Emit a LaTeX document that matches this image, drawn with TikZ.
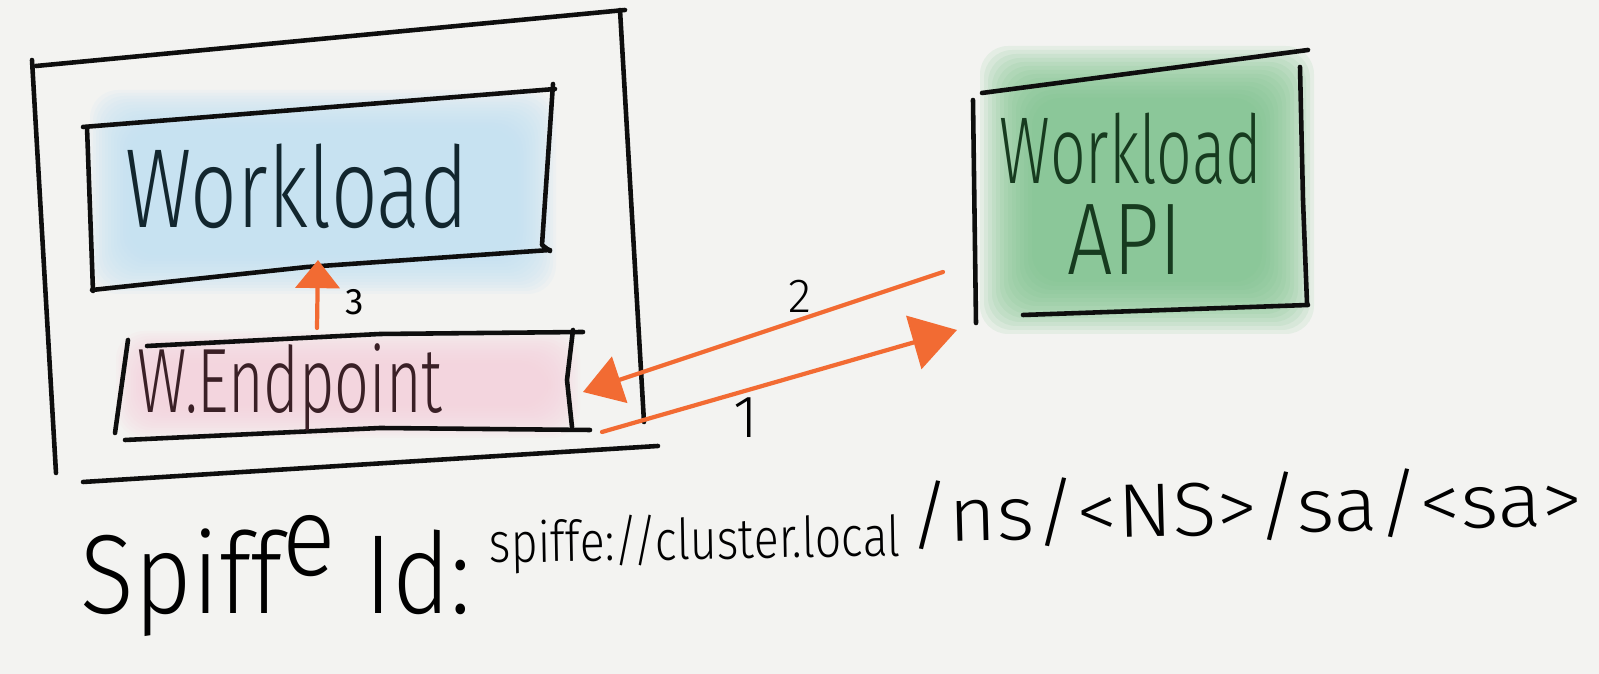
\documentclass[tikz,border=0pt]{standalone}
\usepackage{graphicx}
\usepackage{fontspec}
\IfFontExistsTF{Fira Sans Light}{\newfontfamily\hand{Fira Sans Light}}{\newfontfamily\hand{Fira Sans}}
\newfontfamily\handreg{Fira Sans}
\usetikzlibrary{arrows.meta}
\definecolor{paper}{HTML}{F3F3F1}
\definecolor{ink}{HTML}{0E0E0E}
\definecolor{orng}{HTML}{F26B33}
\definecolor{bluef}{HTML}{C2E2F1}
\definecolor{pinkf}{HTML}{F7D3DE}
\definecolor{greenf}{HTML}{7CC28C}
\definecolor{bluetxt}{HTML}{12262E}
\definecolor{pinktxt}{HTML}{3A2026}
\definecolor{greentxt}{HTML}{173B1F}
\newcommand\softfill[6]{% colour, x1, y1, x2, y2, step
  \foreach \k in {0,...,13}{%
    \fill[#1,fill opacity=0.12,rounded corners=8pt] ({#2+#6*\k},{#3+#6*\k}) rectangle ({#4-#6*\k},{#5-#6*\k});}}
\newcommand\fitw[2]{\resizebox{#1}{\height}{#2}}
\begin{document}
\begin{tikzpicture}[x=0.01cm,y=-0.01cm,
  pen/.style={draw=ink,line width=1.3pt,line cap=round,line join=round},
  flow/.style={draw=orng,line width=1.2pt,line cap=round},
  txt/.style={inner sep=0pt,anchor=base,font=\hand},
]
\fill[paper] (0,0) rectangle (1599,674);
\useasboundingbox (0,0) rectangle (1599,674);

% soft colour fills
\softfill{bluef}{90}{90}{556}{294}{3}
\softfill{pinkf}{116}{331}{580}{438}{2.5}
\softfill{greenf}{980}{46}{1314}{334}{4}

% outer box
\draw[pen] (36,66) -- (625,10);
\draw[pen] (620,10) -- (644,422);
\draw[pen] (32,60) -- (56,473);
\draw[pen] (83,482) -- (658,446);

% workload box
\draw[pen] (83,127) -- (555,89);
\draw[pen] (553,84) -- (542,245) -- (550,251);
\draw[pen] (87,127) -- (93,291);
\draw[pen] (92,290) -- (307,267) -- (550,250);
\node[txt,text=bluetxt] (wl) at (297,228) {\fontsize{32pt}{32pt}\selectfont\fitw{3.43cm}{Workload}};

% endpoint box
\draw[pen] (147,346) -- (380,334) -- (583,332);
\draw[pen] (128,340) -- (115,433);
\draw[pen] (573,330) -- (567,380) -- (572,427);
\draw[pen] (125,440) -- (380,428) -- (590,430);
\node[txt,text=pinktxt] (ep) at (290,413) {\fontsize{26pt}{26pt}\selectfont\fitw{3.05cm}{W.Endpoint}};

% workload API box
\draw[pen] (973,100) -- (976,323);
\draw[pen] (982,93) -- (1308,50);
\draw[pen] (1300,67) -- (1303,200) -- (1307,303);
\draw[pen] (1023,315) -- (1308,305);
\node[txt,text=greentxt,text depth=0pt] (apiw) at (1131,184) {\fontsize{27pt}{27pt}\selectfont\fitw{2.62cm}{Workload}};
\node[txt,text=greentxt] (api) at (1125,275) {\fontsize{29pt}{29pt}\selectfont\fitw{1.14cm}{API}};

% connector end points
\coordinate (ep3) at (317,328);
\coordinate (wl3) at (318,260);
\coordinate (ep1) at (602,432);
\coordinate (api1) at (957,330);
\coordinate (api2) at (943,272);
\coordinate (ep2) at (583,392);

\draw[flow,-{Triangle[length=8pt,width=12.5pt]}] (ep3) -- (wl3);
\draw[flow,-{Triangle[length=12.8pt,width=15.6pt]}] (ep1) -- (api1);
\draw[flow,-{Triangle[length=11pt,width=13.7pt]}] (api2) -- (ep2);

\node[txt,font=\handreg] (l3) at (355,315) {\fontsize{10.5pt}{10.5pt}\selectfont 3};
\node[txt] (l2) at (800,313) {\fontsize{13.6pt}{13.6pt}\selectfont 2};
\node[txt] (l1) at (746,438) {\fontsize{17pt}{17pt}\selectfont 1};

% spiffe id line
\node[txt,anchor=base west] (sid) at (80,614) {\fontsize{32pt}{32pt}\selectfont\fitw{3.9cm}{Spiff\raisebox{11pt}{e} Id:}};
\node[txt,anchor=base west,rotate=1] (uria) at (489,563) {\fontsize{16pt}{16pt}\selectfont\fitw{4.11cm}{spiffe://cluster.local}};
\node[txt,anchor=base west,rotate=1.5] (urib) at (909,543) {\fontsize{21.6pt}{21.6pt}\selectfont\fitw{6.73cm}{/ns/<NS>/sa/<sa>}};
\end{tikzpicture}
\end{document}
